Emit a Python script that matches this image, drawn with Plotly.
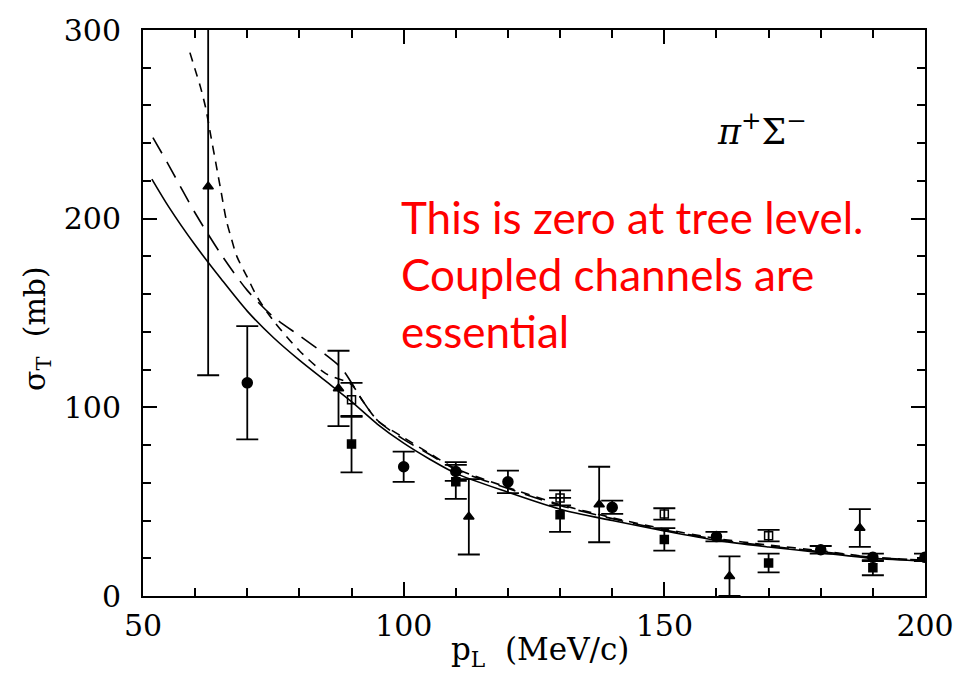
import plotly.graph_objects as go

# ---- data ----
circ_x = [70, 100, 110, 120, 140, 160, 180, 190, 200]
circ_y = [113, 68.5, 66, 60.5, 47, 31.5, 24.5, 20.5, 20.5]
circ_e = [30, 8, 5, 6, 3.5, 2.5, 2, 2, 2]

sq_x = [90, 110, 130, 150, 170, 190]
sq_y = [80.5, 60.5, 43, 30, 17.5, 15]
sq_e = [15, 9, 9, 6, 5, 4]

tri_x = [62.5, 87.5, 112.5, 137.5, 162.5, 187.5]
tri_y = [217, 110, 42, 48.5, 10.5, 36]
tri_e = [100, 20, 20, 20, 10.5, 10]

open_x = [90, 130, 150, 170]
open_y = [104, 52, 43.5, 32]
open_e = [9, 4, 3, 3]

solid_x = [51.7, 55, 60, 65, 70, 75, 80, 85, 90, 95, 100, 105, 110, 120, 130, 140, 150, 160, 170, 180, 190, 200]
solid_y = [221, 206, 186, 168, 151, 137, 125, 114, 103, 91, 81, 72.5, 65, 55, 46, 40, 34.5, 29.5, 26, 23, 20, 18.5]

ldash_x = [51.9, 55, 60, 65, 70, 75, 80, 85, 88, 90, 92, 95, 100, 105, 110, 120, 130, 140, 150, 160, 170, 180, 190, 200]
ldash_y = [243, 228, 203, 181, 162, 148, 138, 128, 121, 113, 104, 93, 83, 75, 67, 57, 48, 41, 35, 30, 26.5, 23.5, 20.5, 19]

sdash_x = [59, 60, 61, 62, 63, 64, 65, 66, 67, 68, 70, 72, 75, 80, 85, 90, 92, 95, 100, 105, 110, 120, 130, 140, 150, 160, 170, 180, 190, 200]
sdash_y = [288, 279, 270, 259, 244, 229, 214, 199, 189, 180, 169, 158, 146, 130, 118, 112, 104, 93, 84, 75.5, 67.5, 57.5, 48.5, 41.5, 35.5, 30.5, 27, 24, 20.5, 19]

x_ticks = [50, 100, 150, 200]
y_ticks = [0, 100, 200, 300]

red_lines = ["This is zero at tree level.", "Coupled channels are", "essential"]

fig = go.Figure()

def curve(x, y, dash):
    fig.add_trace(go.Scatter(x=x, y=y, mode="lines",
                             line=dict(color="black", width=1.6, dash=dash, shape="spline", smoothing=0.8),
                             showlegend=False, hoverinfo="skip"))

curve(solid_x, solid_y, "solid")
curve(ldash_x, ldash_y, "18px,10px")
curve(sdash_x, sdash_y, "9px,7px")

def pts(x, y, e, symbol, size):
    fig.add_trace(go.Scatter(x=x, y=y, mode="markers",
                             marker=dict(symbol=symbol, size=size, color="black",
                                         line=dict(color="black", width=1.5)),
                             error_y=dict(type="data", array=e, visible=True, color="black",
                                          thickness=1.8, width=11),
                             showlegend=False))

pts(circ_x, circ_y, circ_e, "circle", 10)
pts(sq_x, sq_y, sq_e, "square", 8)
pts(tri_x, tri_y, tri_e, "triangle-up", 9)
pts(open_x, open_y, open_e, "square-open", 8)

axis_font = dict(family="DejaVu Serif", size=30, color="black")

fig.update_xaxes(range=[50, 200], tickvals=x_ticks, ticktext=[str(v) for v in x_ticks],
                 ticks="inside", ticklen=14, tickwidth=2, tickcolor="black",
                 minor=dict(ticks="inside", dtick=10, tick0=50, ticklen=8, tickwidth=1.5, tickcolor="black"),
                 showline=True, linewidth=2, linecolor="black", mirror="ticks",
                 showgrid=False, zeroline=False, tickfont=axis_font, ticklabelstandoff=2)
fig.update_yaxes(range=[0, 300], tickvals=y_ticks, ticktext=[str(v) for v in y_ticks],
                 ticks="inside", ticklen=14, tickwidth=2, tickcolor="black",
                 minor=dict(ticks="inside", dtick=20, tick0=0, ticklen=8, tickwidth=1.5, tickcolor="black"),
                 showline=True, linewidth=2, linecolor="black", mirror="ticks",
                 showgrid=False, zeroline=False, tickfont=axis_font, ticklabelstandoff=14)

plot_left, plot_right, plot_top, plot_bot = 143, 932, 28, 596
pw, ph = plot_right - plot_left, plot_bot - plot_top

def px(xp):
    return (xp - plot_left) / pw

def py(yp):
    return (plot_bot - yp) / ph

ann = [
    dict(text="p<sub>L</sub>  (MeV/c)", x=px(544), y=py(652), xref="paper", yref="paper",
         xanchor="center", yanchor="middle", showarrow=False,
         font=dict(family="DejaVu Serif", size=31, color="black")),
    dict(text="σ<sub>T</sub>  (mb)", x=px(36), y=py(327), xref="paper", yref="paper",
         xanchor="center", yanchor="middle", textangle=-90, showarrow=False,
         font=dict(family="DejaVu Serif", size=30, color="black")),
    dict(text="<i>π</i><sup>+</sup>Σ<sup>−</sup>", x=px(768), y=py(127), xref="paper", yref="paper",
         xanchor="center", yanchor="middle", showarrow=False,
         font=dict(family="DejaVu Serif", size=35, color="black")),
]
for t, yp in zip(red_lines, [216, 273, 330]):
    ann.append(dict(text=t, x=px(401), y=py(yp), xref="paper", yref="paper",
                    xanchor="left", yanchor="middle", showarrow=False,
                    font=dict(family="Lato", size=44, color="#ff0000")))

fig.update_layout(annotations=ann, width=966, height=692,
                  margin=dict(l=plot_left, r=966 - plot_right, t=plot_top, b=692 - plot_bot),
                  plot_bgcolor="white", paper_bgcolor="white")

fig.write_html("out.html")
